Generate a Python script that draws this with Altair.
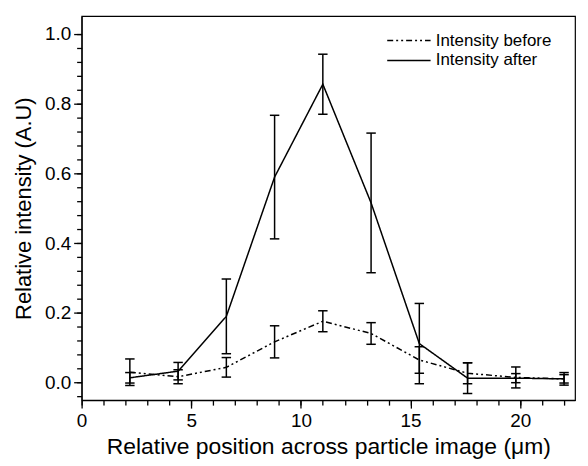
import altair as alt
import pandas as pd

positions = [2.2, 4.4, 6.6, 8.8, 11.0, 13.2, 15.4, 17.6, 19.8, 22.0]
before = [0.030, 0.017, 0.044, 0.117, 0.176, 0.141, 0.065, 0.027, 0.015, 0.011]
before_err = [0.038, 0.020, 0.028, 0.046, 0.030, 0.031, 0.038, 0.030, 0.030, 0.018]
after = [0.014, 0.033, 0.190, 0.589, 0.855, 0.515, 0.112, 0.013, 0.013, 0.011]
after_err = [0.015, 0.025, 0.107, 0.177, 0.086, 0.200, 0.115, 0.044, 0.013, 0.012]
series_names = ["Intensity before", "Intensity after"]
x_major = [0, 5, 10, 15, 20]
x_minor = list(range(0, 23))
y_major = [0.0, 0.2, 0.4, 0.6, 0.8, 1.0]
y_minor = [-0.04, 0.0, 0.04, 0.08, 0.12, 0.16, 0.2, 0.24, 0.28, 0.32, 0.36, 0.4,
           0.44, 0.48, 0.52, 0.56, 0.6, 0.64, 0.68, 0.72, 0.76, 0.8, 0.84, 0.88,
           0.92, 0.96, 1.0]

rows = []
for name, vals, errs in [(series_names[0], before, before_err), (series_names[1], after, after_err)]:
    for x, v, e in zip(positions, vals, errs):
        rows.append({"x": x, "value": v, "lo": v - e, "hi": v + e, "series": name})
df = pd.DataFrame(rows)

FONT = "Liberation Sans"

common = dict(grid=False, labelFont=FONT, titleFont=FONT, titleFontWeight="normal",
              labelColor="black", titleColor="black", tickColor="black",
              domainColor="black", tickWidth=1.3, domainWidth=1.2,
              labelFontSize=19)

# main axes carry every (minor) tick; labels only on the major values
x_axis = alt.Axis(values=x_minor, tickSize=5, labelPadding=6, titlePadding=6,
                  labelExpr="datum.value % 5 === 0 ? format(datum.value, 'd') : ''",
                  labelFlush=False, labelOverlap=False, orient="bottom", titleFontSize=23,
                  title="Relative position across particle image (\u03bcm)", **common)
y_axis = alt.Axis(values=y_minor, tickSize=5, labelPadding=6, titlePadding=9,
                  labelExpr="abs(datum.value * 5 - round(datum.value * 5)) < 0.001 ? format(datum.value, '.1f') : ''",
                  labelOverlap=False, orient="left", titleFontSize=22,
                  title="Relative intensity (A.U)", **common)
# second axes: longer ticks on the major values
x_major_axis = alt.Axis(values=x_major, tickSize=8, labels=False, title=None, domain=False,
                        orient="bottom", grid=False, tickColor="black", tickWidth=1.3)
y_major_axis = alt.Axis(values=y_major, tickSize=8, labels=False, title=None, domain=False,
                        orient="left", grid=False, tickColor="black", tickWidth=1.3)

def xs():
    return alt.Scale(domain=[0, 22.5], nice=False, zero=False)

def ys():
    return alt.Scale(domain=[-0.05, 1.05], nice=False, zero=False)

base = alt.Chart(df)

lines = base.mark_line(color="black", strokeWidth=1.5).encode(
    x=alt.X("x:Q", scale=xs(), axis=x_axis),
    y=alt.Y("value:Q", scale=ys(), axis=y_axis),
    strokeDash=alt.StrokeDash(
        "series:N",
        scale=alt.Scale(domain=series_names, range=[[6, 3, 2, 3, 2, 3], [1, 0]]),
        legend=alt.Legend(
            title=None, orient="none", legendX=306, legendY=15,
            symbolType="stroke", symbolSize=1900, symbolStrokeWidth=1.5,
            symbolStrokeColor="black", labelFontSize=17, labelFont=FONT,
            labelColor="black", clipHeight=19, rowPadding=1, labelOffset=4,
        ),
    ),
)

rules = base.mark_rule(color="black", strokeWidth=1.5).encode(
    x=alt.X("x:Q", scale=xs(), axis=x_major_axis),
    y=alt.Y("lo:Q", scale=ys(), axis=y_major_axis),
    y2="hi:Q",
)
caps_lo = base.mark_point(shape="stroke", size=90, color="black", strokeWidth=1.5, filled=False, opacity=1).encode(
    x=alt.X("x:Q", scale=xs(), axis=None), y=alt.Y("lo:Q", scale=ys(), axis=None)
)
caps_hi = base.mark_point(shape="stroke", size=90, color="black", strokeWidth=1.5, filled=False, opacity=1).encode(
    x=alt.X("x:Q", scale=xs(), axis=None), y=alt.Y("hi:Q", scale=ys(), axis=None)
)

chart = alt.layer(rules, caps_lo, caps_hi, lines).resolve_scale(
    x="independent", y="independent"
).resolve_axis(
    x="independent", y="independent"
).properties(
    width=496, height=386,
    padding={"left": 4, "top": 7, "right": 5, "bottom": 5},
    background="white",
).configure_view(stroke="black", strokeWidth=1.2)

chart.save("out.html", embed_options={"renderer": "svg", "actions": False})
